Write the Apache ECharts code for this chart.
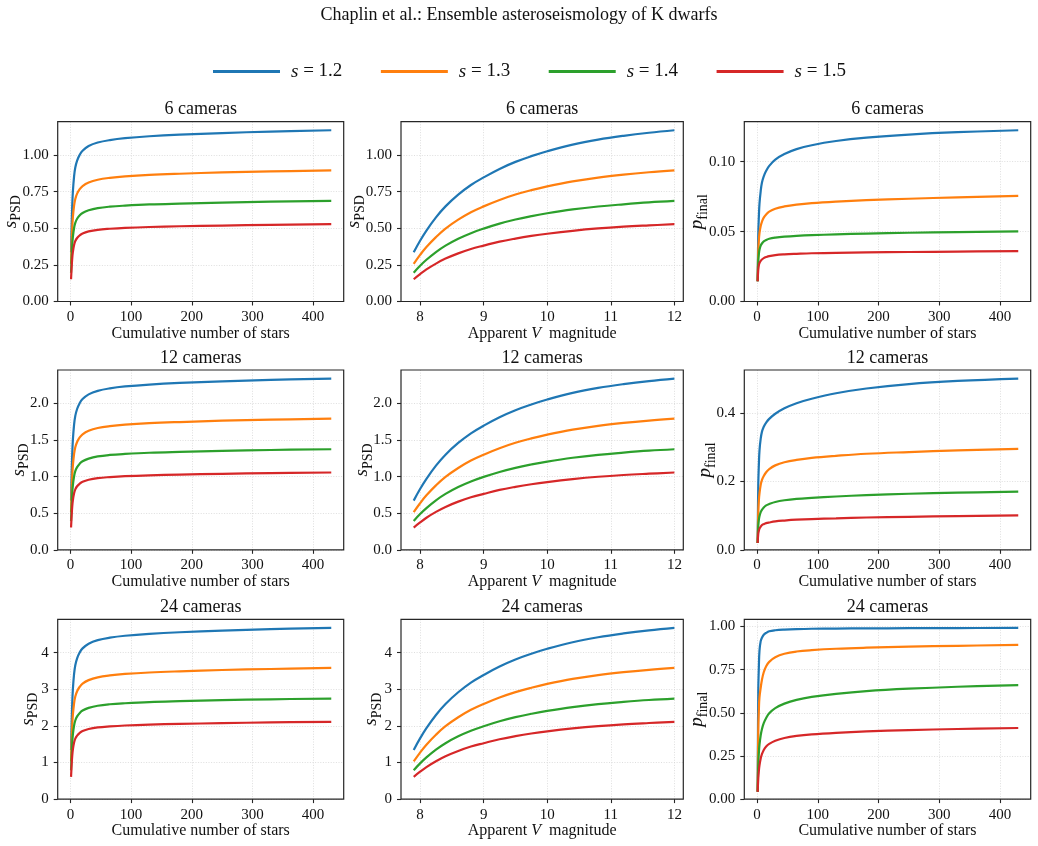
<!DOCTYPE html>
<html>
<head>
<meta charset="utf-8">
<script src="https://cdn.jsdelivr.net/npm/echarts@6/dist/echarts.min.js"></script>
<style>
  html, body { margin: 0; padding: 0; background: #fff; }
  #main { width: 1038px; height: 846px; }
</style>
</head>
<body>
<div id="main"></div>
<script>
// ---- data ----
const seriesNames = ["s = 1.2", "s = 1.3", "s = 1.4", "s = 1.5"];
const colors = ["#1f77b4", "#ff7f0e", "#2ca02c", "#d62728"];
const cameraTitles = ["6 cameras", "12 cameras", "24 cameras"];

const nStars = [1, 2, 3, 4, 6, 8, 11, 15, 20, 30, 45, 65, 90, 130, 180, 250, 330, 430];
const vMag = [7.9, 8.0, 8.1, 8.25, 8.4, 8.6, 8.8, 9.0, 9.25, 9.5, 9.75, 10.0, 10.4, 10.8, 11.2, 11.6, 12.0];

// s_PSD against cumulative number of stars
const sPsdN6 = [
  [0.336, 0.52, 0.66, 0.75, 0.855, 0.915, 0.962, 1.0, 1.03, 1.062, 1.086, 1.103, 1.116, 1.129, 1.14, 1.151, 1.161, 1.17],
  [0.257, 0.398, 0.506, 0.575, 0.655, 0.701, 0.737, 0.766, 0.789, 0.813, 0.832, 0.845, 0.855, 0.865, 0.873, 0.882, 0.889, 0.896],
  [0.197, 0.305, 0.387, 0.44, 0.502, 0.537, 0.565, 0.587, 0.605, 0.623, 0.638, 0.648, 0.655, 0.663, 0.669, 0.676, 0.682, 0.687],
  [0.152, 0.235, 0.298, 0.338, 0.386, 0.413, 0.434, 0.451, 0.465, 0.479, 0.49, 0.497, 0.503, 0.509, 0.514, 0.519, 0.524, 0.528],
];
const sPsdN12 = [
  [0.672, 1.04, 1.32, 1.5, 1.71, 1.83, 1.924, 2.0, 2.06, 2.124, 2.172, 2.206, 2.232, 2.258, 2.28, 2.302, 2.322, 2.34],
  [0.514, 0.796, 1.012, 1.15, 1.31, 1.402, 1.474, 1.532, 1.578, 1.626, 1.664, 1.69, 1.71, 1.73, 1.746, 1.764, 1.778, 1.792],
  [0.394, 0.61, 0.774, 0.88, 1.004, 1.074, 1.13, 1.174, 1.21, 1.246, 1.276, 1.296, 1.31, 1.326, 1.338, 1.352, 1.364, 1.374],
  [0.304, 0.47, 0.596, 0.676, 0.772, 0.826, 0.868, 0.902, 0.93, 0.958, 0.98, 0.994, 1.006, 1.018, 1.028, 1.038, 1.048, 1.056],
];
const sPsdN24 = [
  [1.344, 2.08, 2.64, 3.0, 3.42, 3.66, 3.848, 4.0, 4.12, 4.248, 4.344, 4.412, 4.464, 4.516, 4.56, 4.604, 4.644, 4.68],
  [1.028, 1.592, 2.024, 2.3, 2.62, 2.804, 2.948, 3.064, 3.156, 3.252, 3.328, 3.38, 3.42, 3.46, 3.492, 3.528, 3.556, 3.584],
  [0.788, 1.22, 1.548, 1.76, 2.008, 2.148, 2.26, 2.348, 2.42, 2.492, 2.552, 2.592, 2.62, 2.652, 2.676, 2.704, 2.728, 2.748],
  [0.608, 0.94, 1.192, 1.352, 1.544, 1.652, 1.736, 1.804, 1.86, 1.916, 1.96, 1.988, 2.012, 2.036, 2.056, 2.076, 2.096, 2.112],
];

// s_PSD against apparent V magnitude
const sPsdV6 = [
  [0.336, 0.415, 0.485, 0.575, 0.65, 0.73, 0.796, 0.848, 0.906, 0.954, 0.993, 1.027, 1.072, 1.106, 1.132, 1.153, 1.17],
  [0.257, 0.318, 0.372, 0.44, 0.498, 0.559, 0.61, 0.65, 0.694, 0.731, 0.761, 0.787, 0.821, 0.847, 0.867, 0.883, 0.896],
  [0.197, 0.244, 0.285, 0.338, 0.382, 0.429, 0.467, 0.498, 0.532, 0.56, 0.583, 0.603, 0.629, 0.649, 0.664, 0.677, 0.687],
  [0.152, 0.187, 0.219, 0.259, 0.293, 0.329, 0.359, 0.382, 0.409, 0.43, 0.448, 0.463, 0.483, 0.499, 0.511, 0.52, 0.528],
];
const sPsdV12 = [
  [0.672, 0.83, 0.97, 1.15, 1.3, 1.46, 1.592, 1.696, 1.812, 1.908, 1.986, 2.054, 2.144, 2.212, 2.264, 2.306, 2.34],
  [0.514, 0.636, 0.744, 0.88, 0.996, 1.118, 1.22, 1.3, 1.388, 1.462, 1.522, 1.574, 1.642, 1.694, 1.734, 1.766, 1.792],
  [0.394, 0.488, 0.57, 0.676, 0.764, 0.858, 0.934, 0.996, 1.064, 1.12, 1.166, 1.206, 1.258, 1.298, 1.328, 1.354, 1.374],
  [0.304, 0.374, 0.438, 0.518, 0.586, 0.658, 0.718, 0.764, 0.818, 0.86, 0.896, 0.926, 0.966, 0.998, 1.022, 1.04, 1.056],
];
const sPsdV24 = [
  [1.344, 1.66, 1.94, 2.3, 2.6, 2.92, 3.184, 3.392, 3.624, 3.816, 3.972, 4.108, 4.288, 4.424, 4.528, 4.612, 4.68],
  [1.028, 1.272, 1.488, 1.76, 1.992, 2.236, 2.44, 2.6, 2.776, 2.924, 3.044, 3.148, 3.284, 3.388, 3.468, 3.532, 3.584],
  [0.788, 0.976, 1.14, 1.352, 1.528, 1.716, 1.868, 1.992, 2.128, 2.24, 2.332, 2.412, 2.516, 2.596, 2.656, 2.708, 2.748],
  [0.608, 0.748, 0.876, 1.036, 1.172, 1.316, 1.436, 1.528, 1.636, 1.72, 1.792, 1.852, 1.932, 1.996, 2.044, 2.08, 2.112],
];

// p_final against cumulative number of stars
const pFinal6 = [
  [0.0145, 0.048, 0.061, 0.07, 0.079, 0.085, 0.0895, 0.0935, 0.097, 0.1015, 0.1055, 0.109, 0.1118, 0.1148, 0.1172, 0.1194, 0.1211, 0.1225],
  [0.0145, 0.036, 0.044, 0.049, 0.054, 0.057, 0.06, 0.0623, 0.0643, 0.0664, 0.068, 0.0693, 0.0704, 0.0715, 0.0725, 0.0735, 0.0745, 0.0755],
  [0.0145, 0.029, 0.034, 0.037, 0.04, 0.0415, 0.043, 0.044, 0.0449, 0.0457, 0.0464, 0.047, 0.0475, 0.048, 0.0486, 0.0492, 0.0497, 0.0502],
  [0.0145, 0.023, 0.026, 0.0275, 0.029, 0.03, 0.031, 0.0318, 0.0325, 0.0332, 0.0337, 0.0341, 0.0345, 0.0348, 0.0351, 0.0354, 0.0357, 0.036],
];
const pFinal12 = [
  [0.02, 0.19, 0.25, 0.29, 0.325, 0.345, 0.36, 0.372, 0.383, 0.398, 0.414, 0.429, 0.442, 0.458, 0.472, 0.485, 0.494, 0.501],
  [0.02, 0.11, 0.145, 0.165, 0.19, 0.204, 0.216, 0.227, 0.236, 0.247, 0.256, 0.263, 0.269, 0.275, 0.281, 0.286, 0.291, 0.295],
  [0.02, 0.07, 0.088, 0.098, 0.11, 0.117, 0.124, 0.13, 0.134, 0.14, 0.145, 0.149, 0.152, 0.156, 0.16, 0.164, 0.167, 0.17],
  [0.02, 0.047, 0.056, 0.062, 0.068, 0.072, 0.075, 0.078, 0.08, 0.083, 0.0855, 0.088, 0.09, 0.092, 0.0945, 0.0965, 0.0985, 0.1005],
];
const pFinal24 = [
  [0.042, 0.62, 0.77, 0.86, 0.915, 0.935, 0.952, 0.963, 0.972, 0.978, 0.982, 0.985, 0.987, 0.988, 0.989, 0.99, 0.991, 0.992],
  [0.042, 0.4, 0.52, 0.59, 0.645, 0.69, 0.735, 0.77, 0.795, 0.822, 0.842, 0.855, 0.863, 0.871, 0.877, 0.883, 0.888, 0.893],
  [0.042, 0.2, 0.27, 0.315, 0.37, 0.405, 0.44, 0.47, 0.497, 0.527, 0.553, 0.575, 0.592, 0.61, 0.626, 0.64, 0.651, 0.66],
  [0.042, 0.12, 0.165, 0.195, 0.235, 0.26, 0.285, 0.305, 0.32, 0.338, 0.354, 0.366, 0.375, 0.384, 0.392, 0.4, 0.406, 0.412],
];

// tick labels
const nTicks = [0, 100, 200, 300, 400];
const vTicks = [8, 9, 10, 11, 12];
const psdTicks6 = [0, 0.25, 0.5, 0.75, 1.0];
const psdTicks12 = [0, 0.5, 1.0, 1.5, 2.0];
const psdTicks24 = [0, 1, 2, 3, 4];
const pTicks6 = [0, 0.05, 0.1];
const pTicks12 = [0, 0.2, 0.4];
const pTicks24 = [0, 0.25, 0.5, 0.75, 1.0];

// ---- layout / style ----
const FONT = '"Liberation Serif", "Times New Roman", serif';
const TEXT = "#111";
const SPINE = "#262626";
const GRIDLINE = { color: "#d6d6d6", width: 0.8, type: [1, 1.6] };
const colLeft = [57.7, 401, 744.3];
const colWidth = [286, 282.3, 286.4];
const rowTop = [121.7, 370, 619.3];
const rowHeight = 179.8;
// y label sits a fixed pad left of the tick labels, so its gap depends on their width
const yNameGapByDec = { 0: 17, 1: 26, 2: 34 };

const rows = [
  { psdN: sPsdN6, psdV: sPsdV6, p: pFinal6, psdTicks: psdTicks6, pTicks: pTicks6, psdDec: 2, pDec: 2 },
  { psdN: sPsdN12, psdV: sPsdV12, p: pFinal12, psdTicks: psdTicks12, pTicks: pTicks12, psdDec: 1, pDec: 1 },
  { psdN: sPsdN24, psdV: sPsdV24, p: pFinal24, psdTicks: psdTicks24, pTicks: pTicks24, psdDec: 0, pDec: 2 },
];

const yNameRich = {
  i: { fontFamily: FONT, fontStyle: "italic", fontSize: 19, lineHeight: 26, color: TEXT },
  sub: { fontFamily: FONT, fontSize: 14, lineHeight: 14, verticalAlign: "bottom", color: TEXT },
};

const grids = [];
const xAxes = [];
const yAxes = [];
const series = [];
const graphics = [];

rows.forEach((row, r) => {
  const cols = [
    { xs: nStars, ys: row.psdN, xTicks: nTicks, xMin: -21, xMax: 450.5, xName: "Cumulative number of stars", yTicks: row.psdTicks, dec: row.psdDec, yName: "{i|s}{sub|PSD}" },
    { xs: vMag, ys: row.psdV, xTicks: vTicks, xMin: 7.7, xMax: 12.14, xName: "Apparent {i|V}  magnitude", yTicks: row.psdTicks, dec: row.psdDec, yName: "{i|s}{sub|PSD}" },
    { xs: nStars, ys: row.p, xTicks: nTicks, xMin: -21, xMax: 450.5, xName: "Cumulative number of stars", yTicks: row.pTicks, dec: row.pDec, yName: "{i|p}{sub|final}" },
  ];
  cols.forEach((c, k) => {
    const idx = grids.length;
    grids.push({
      left: colLeft[k], top: rowTop[r], width: colWidth[k], height: rowHeight,
      show: false, containLabel: false, outerBoundsMode: "none",
    });
    xAxes.push({
      type: "value", gridIndex: idx, min: c.xMin, max: c.xMax,
      name: c.xName, nameLocation: "middle", nameGap: 24, nameMoveOverlap: false,
      nameTextStyle: {
        fontFamily: FONT, fontSize: 16, color: TEXT,
        rich: { i: { fontFamily: FONT, fontStyle: "italic", fontSize: 16, color: TEXT } },
      },
      axisLine: { show: false, onZero: false },
      axisTick: { show: true, inside: false, length: 4, customValues: c.xTicks, lineStyle: { color: SPINE, width: 1.1 } },
      axisLabel: { customValues: c.xTicks, margin: 8, fontFamily: FONT, fontSize: 15, color: TEXT, hideOverlap: false, formatter: (v) => String(Math.round(v)) },
      splitLine: { show: true, lineStyle: GRIDLINE },
    });
    yAxes.push({
      type: "value", gridIndex: idx, min: 0, max: (v) => v.max * 1.05,
      name: c.yName, nameLocation: "middle", nameGap: yNameGapByDec[c.dec], nameRotate: 90, nameMoveOverlap: false,
      nameTextStyle: { fontFamily: FONT, fontSize: 19, color: TEXT, rich: yNameRich },
      axisLine: { show: false, onZero: false },
      axisTick: { show: true, inside: false, length: 4, customValues: c.yTicks, lineStyle: { color: SPINE, width: 1.1 } },
      axisLabel: { customValues: c.yTicks, margin: 9, fontFamily: FONT, fontSize: 15, color: TEXT, hideOverlap: false, formatter: (v) => v.toFixed(c.dec) },
      splitLine: { show: true, lineStyle: GRIDLINE },
    });
    c.ys.forEach((ys, s) => {
      series.push({
        type: "line", name: seriesNames[s], xAxisIndex: idx, yAxisIndex: idx,
        data: c.xs.map((x, i) => [x, ys[i]]),
        showSymbol: false, symbol: "none", smooth: 0.4,
        lineStyle: { color: colors[s], width: 2.2 },
        itemStyle: { color: colors[s] },
        silent: true, z: 3,
      });
    });
    // frame (spines) and panel title
    graphics.push({
      type: "rect", silent: true, z: 100,
      shape: { x: colLeft[k], y: rowTop[r], width: colWidth[k], height: rowHeight },
      style: { fill: "none", stroke: SPINE, lineWidth: 1.2 },
    });
    graphics.push({
      type: "text", silent: true, z: 100,
      x: colLeft[k] + colWidth[k] / 2, y: rowTop[r] - 3,
      style: {
        text: cameraTitles[r], font: "18px " + FONT, fill: TEXT,
        align: "center", verticalAlign: "bottom", textAlign: "center", textVerticalAlign: "bottom",
      },
    });
  });
});

const chart = echarts.init(document.getElementById("main"), null, { renderer: "canvas" });
chart.setOption({
  animation: false,
  backgroundColor: "#fff",
  title: {
    text: "Chaplin et al.: Ensemble asteroseismology of K dwarfs",
    left: "center", top: 1,
    textStyle: { fontFamily: FONT, fontSize: 18, fontWeight: "normal", color: TEXT },
  },
  legend: {
    data: seriesNames, top: 62, left: 213, padding: 0,
    icon: "rect", itemWidth: 67, itemHeight: 3, itemGap: 38.5, selectedMode: false,
    formatter: (name) => "{i|s} = " + name.slice(4),
    textStyle: {
      fontFamily: FONT, fontSize: 19, color: TEXT, padding: [0, 0, 0, 6],
      rich: { i: { fontFamily: FONT, fontStyle: "italic", fontSize: 19, color: TEXT } },
    },
  },
  grid: grids,
  xAxis: xAxes,
  yAxis: yAxes,
  series: series,
  graphic: graphics,
});
</script>
</body>
</html>
